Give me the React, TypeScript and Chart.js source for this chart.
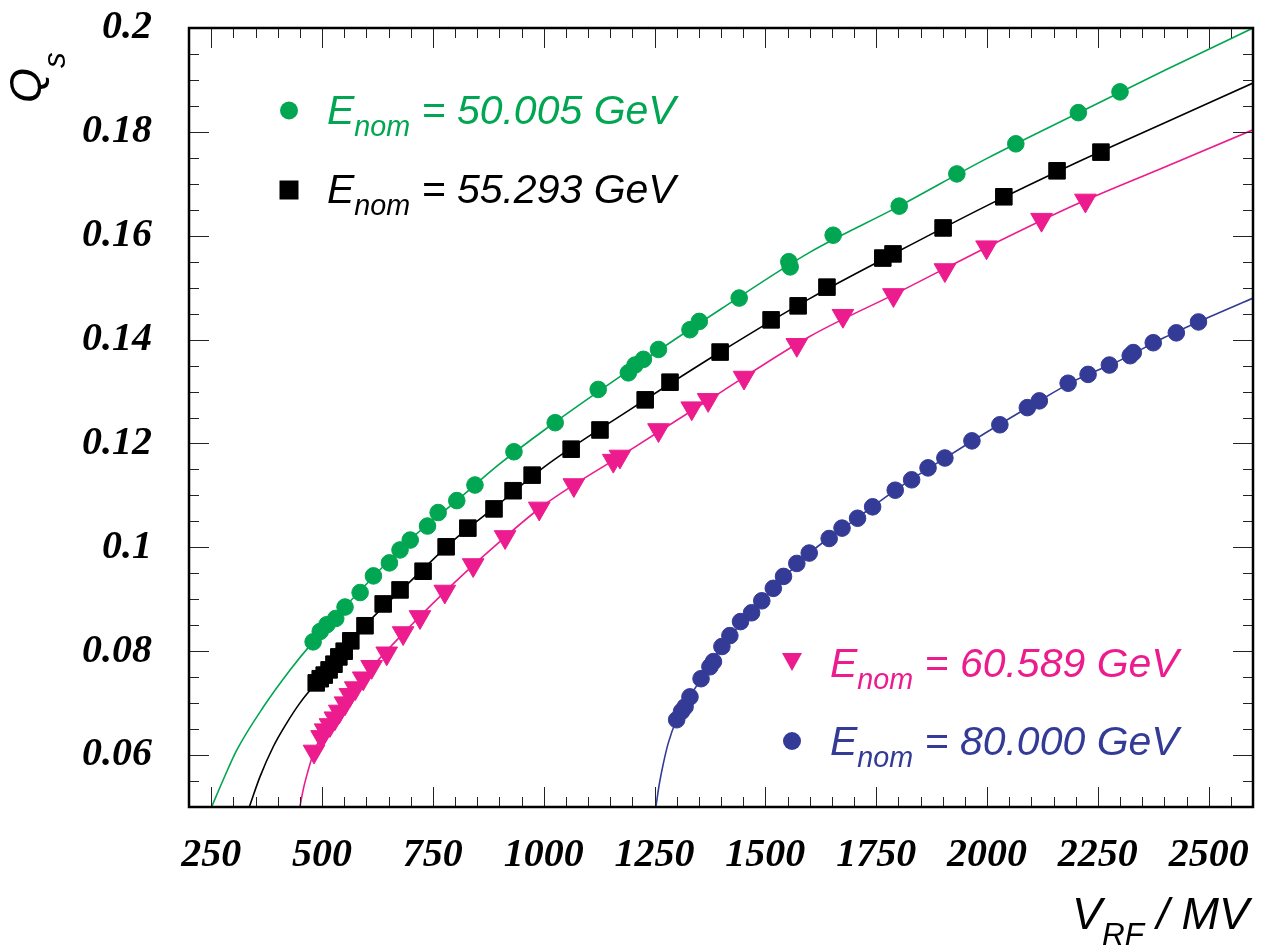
import React, { useEffect, useRef } from 'react';
import { Chart, registerables } from 'chart.js';

Chart.register(...registerables);

// ---------- data ----------
const E50_V = [480, 496, 511, 531, 552, 586, 616, 652, 676, 699, 738, 762, 804, 845, 933, 1026, 1123, 1191, 1206, 1225, 1259, 1330, 1351, 1441, 1553, 1556, 1653, 1802, 1932, 2065, 2206, 2300];
const E50_Q = [0.0818, 0.0838, 0.0851, 0.0863, 0.0885, 0.0913, 0.0945, 0.0970, 0.0995, 0.1014, 0.1041, 0.1067, 0.1090, 0.1120, 0.1184, 0.1240, 0.1304, 0.1336, 0.1351, 0.1362, 0.1381, 0.1419, 0.1435, 0.1480, 0.1550, 0.1540, 0.1601, 0.1657, 0.1719, 0.1777, 0.1837, 0.1877];

const E55_V = [487, 496, 505, 516, 527, 538, 550, 565, 597, 638, 676, 728, 780, 829, 888, 931, 974, 1062, 1127, 1229, 1285, 1398, 1513, 1574, 1639, 1765, 1788, 1901, 2038, 2158, 2257];
const E55_Q = [0.0739, 0.0747, 0.0754, 0.0764, 0.0775, 0.0789, 0.0800, 0.0820, 0.0849, 0.0891, 0.0918, 0.0954, 0.1001, 0.1037, 0.1074, 0.1109, 0.1139, 0.1189, 0.1226, 0.1284, 0.1318, 0.1376, 0.1438, 0.1465, 0.1501, 0.1557, 0.1565, 0.1615, 0.1675, 0.1725, 0.1761];

const E60_V = [482, 499, 507, 518, 529, 539, 552, 563, 575, 593, 612, 646, 683, 721, 777, 841, 913, 990, 1068, 1157, 1172, 1259, 1334, 1371, 1452, 1571, 1675, 1789, 1905, 1999, 2123, 2222];
const E60_Q = [0.0607, 0.0635, 0.0648, 0.0658, 0.0671, 0.0684, 0.0700, 0.0716, 0.0729, 0.0748, 0.0770, 0.0796, 0.0835, 0.0866, 0.0915, 0.0966, 0.1020, 0.1075, 0.1120, 0.1167, 0.1175, 0.1226, 0.1268, 0.1284, 0.1327, 0.1390, 0.1446, 0.1486, 0.1534, 0.1578, 0.1631, 0.1668];

const E80_V = [1300, 1311, 1319, 1330, 1355, 1375, 1383, 1402, 1420, 1444, 1469, 1492, 1518, 1541, 1571, 1599, 1644, 1673, 1708, 1742, 1793, 1830, 1867, 1905, 1966, 2029, 2091, 2118, 2183, 2228, 2276, 2323, 2330, 2375, 2427, 2477];
const E80_Q = [0.0668, 0.0684, 0.0693, 0.0712, 0.0747, 0.0770, 0.0780, 0.0809, 0.0830, 0.0857, 0.0874, 0.0897, 0.0921, 0.0944, 0.0969, 0.0989, 0.1017, 0.1037, 0.1056, 0.1078, 0.1110, 0.1130, 0.1153, 0.1172, 0.1205, 0.1236, 0.1269, 0.1282, 0.1316, 0.1333, 0.1351, 0.1369, 0.1375, 0.1394, 0.1413, 0.1434];

// fitted curves
const FIT50_V = [251, 277, 308, 368, 428, 480, 600, 700, 800, 900, 1000, 1200, 1400, 1600, 1800, 2000, 2200, 2400, 2600];
const FIT50_Q = [0.0500, 0.0552, 0.0610, 0.0693, 0.0764, 0.0818, 0.0929, 0.1016, 0.1087, 0.1160, 0.1225, 0.1345, 0.1459, 0.1568, 0.1656, 0.1749, 0.1834, 0.1918, 0.2000];

const FIT55_V = [336, 360, 390, 420, 450, 487, 600, 700, 800, 900, 1000, 1200, 1400, 1600, 1800, 2000, 2200, 2400, 2600];
const FIT55_Q = [0.0500, 0.0558, 0.0616, 0.0661, 0.0700, 0.0739, 0.0852, 0.0935, 0.1016, 0.1084, 0.1154, 0.1268, 0.1377, 0.1479, 0.1570, 0.1658, 0.1740, 0.1817, 0.1894];

const FIT60_V = [450, 458, 468, 482, 500, 550, 600, 700, 800, 900, 1000, 1200, 1400, 1600, 1800, 2000, 2200, 2400, 2600];
const FIT60_Q = [0.0500, 0.0535, 0.0568, 0.0607, 0.0637, 0.0697, 0.0756, 0.0849, 0.0933, 0.1010, 0.1081, 0.1190, 0.1299, 0.1406, 0.1491, 0.1578, 0.1660, 0.1732, 0.1804];

const FIT80_V = [1253, 1261, 1270, 1281, 1300, 1350, 1400, 1500, 1600, 1700, 1800, 1900, 2000, 2100, 2200, 2300, 2400, 2500, 2600];
const FIT80_Q = [0.0500, 0.0545, 0.0584, 0.0623, 0.0668, 0.0740, 0.0806, 0.0905, 0.0989, 0.1052, 0.1114, 0.1169, 0.1222, 0.1273, 0.1322, 0.1360, 0.1404, 0.1443, 0.1480];

// axes
const X_MIN = 200;
const X_MAX = 2600;
const Y_MIN = 0.05;
const Y_MAX = 0.2;
const X_TICKS = [250, 500, 750, 1000, 1250, 1500, 1750, 2000, 2250, 2500];
const X_TICK_LABELS = ['250', '500', '750', '1000', '1250', '1500', '1750', '2000', '2250', '2500'];
const Y_TICKS = [0.06, 0.08, 0.1, 0.12, 0.14, 0.16, 0.18, 0.2];
const Y_TICK_LABELS = ['0.06', '0.08', '0.1', '0.12', '0.14', '0.16', '0.18', '0.2'];

// series styling / names
const SERIES_ENERGY = ['50.005', '55.293', '60.589', '80.000'];
const SERIES_COLORS = ['#00A651', '#000000', '#EC1C8E', '#333B96'];

const pts = (xs: number[], ys: number[]) => xs.map((x, i) => ({ x, y: ys[i] }));

type Part = { t: string; size: number; dy?: number };

function drawParts(ctx: CanvasRenderingContext2D, x: number, y: number, parts: Part[], color: string) {
  ctx.fillStyle = color;
  ctx.textBaseline = 'alphabetic';
  ctx.textAlign = 'left';
  let cx = x;
  for (const p of parts) {
    ctx.font = `italic ${p.size}px "Liberation Sans", Arial, sans-serif`;
    ctx.fillText(p.t, cx, y + (p.dy || 0));
    cx += ctx.measureText(p.t).width;
  }
}

function drawMarker(ctx: CanvasRenderingContext2D, kind: string, x: number, y: number, color: string) {
  ctx.fillStyle = color;
  ctx.beginPath();
  if (kind === 'circle') {
    ctx.arc(x, y, 9, 0, Math.PI * 2);
  } else if (kind === 'rect') {
    ctx.rect(x - 9.5, y - 9.5, 19, 19);
  } else {
    ctx.moveTo(x - 10, y - 8.5);
    ctx.lineTo(x + 10, y - 8.5);
    ctx.lineTo(x, y + 9.5);
    ctx.closePath();
  }
  ctx.fill();
}

const framePlugin = {
  id: 'rootFrame',
  afterDatasetsDraw(chart: any) {
    const { ctx, chartArea: a, scales } = chart;
    const xs = scales.x;
    const ys = scales.y;
    ctx.save();
    ctx.strokeStyle = '#222';
    ctx.lineWidth = 1;
    ctx.beginPath();
    for (let i = 0; i <= Math.round((X_MAX - X_MIN) / 50); i++) {
      const v = X_MIN + i * 50;
      const px = Math.round(xs.getPixelForValue(v)) + 0.5;
      const len = v % 250 === 0 ? 20 : 10;
      ctx.moveTo(px, a.bottom);
      ctx.lineTo(px, a.bottom - len);
      ctx.moveTo(px, a.top);
      ctx.lineTo(px, a.top + len);
    }
    for (let i = 0; i <= Math.round((Y_MAX - Y_MIN) / 0.005); i++) {
      const v = Y_MIN + i * 0.005;
      const py = Math.round(ys.getPixelForValue(v)) + 0.5;
      const q = v / 0.02;
      const len = Math.abs(q - Math.round(q)) < 1e-6 ? 20 : 10;
      ctx.moveTo(a.left, py);
      ctx.lineTo(a.left + len, py);
      ctx.moveTo(a.right, py);
      ctx.lineTo(a.right - len, py);
    }
    ctx.stroke();
    ctx.strokeStyle = '#000';
    ctx.lineWidth = 2.5;
    ctx.strokeRect(a.left, a.top, a.right - a.left, a.bottom - a.top);
    ctx.restore();
  },
  afterDraw(chart: any) {
    const { ctx } = chart;
    ctx.save();
    // legend entries
    const kinds = ['circle', 'rect', 'triangle', 'circle'];
    const rows = [
      { mx: 289, my: 110.5, tx: 327, ty: 123.5 },
      { mx: 289, my: 190, tx: 327, ty: 202.5 },
      { mx: 792, my: 661.5, tx: 830, ty: 676.5 },
      { mx: 792, my: 741, tx: 830, ty: 755 },
    ];
    rows.forEach((r, i) => {
      drawMarker(ctx, kinds[i], r.mx, r.my, SERIES_COLORS[i]);
      drawParts(ctx, r.tx, r.ty, [
        { t: 'E', size: 41 },
        { t: 'nom', size: 28.7, dy: 12 },
        { t: ' = ' + SERIES_ENERGY[i] + ' GeV', size: 41 },
      ], SERIES_COLORS[i]);
    });
    // x title
    drawParts(ctx, 1072, 929, [
      { t: 'V', size: 45 },
      { t: 'RF', size: 31.5, dy: 16 },
      { t: ' / MV', size: 45 },
    ], '#000');
    // y title (rotated)
    ctx.translate(41, 103);
    ctx.rotate(-Math.PI / 2);
    drawParts(ctx, 0, 0, [
      { t: 'Q', size: 45 },
      { t: 's', size: 31.5, dy: 24 },
    ], '#000');
    ctx.restore();
  },
};

export default function App() {
  const ref = useRef<HTMLCanvasElement | null>(null);

  useEffect(() => {
    if (!ref.current) return;
    const tickFont = { family: '"Liberation Serif", "Times New Roman", serif', size: 40, style: 'italic' as const, weight: 'bold' as const };
    const markerSets = [
      { v: E50_V, q: E50_Q, style: 'circle', r: 8.3, rot: 0 },
      { v: E55_V, q: E55_Q, style: 'rect', r: 11.7, rot: 0 },
      { v: E60_V, q: E60_Q, style: 'triangle', r: 12.5, rot: 180 },
      { v: E80_V, q: E80_Q, style: 'circle', r: 8.3, rot: 0 },
    ];
    const fitSets = [
      { v: FIT50_V, q: FIT50_Q },
      { v: FIT55_V, q: FIT55_Q },
      { v: FIT60_V, q: FIT60_Q },
      { v: FIT80_V, q: FIT80_Q },
    ];
    const datasets: any[] = [];
    markerSets.forEach((m, i) => {
      datasets.push({
        label: 'E_nom = ' + SERIES_ENERGY[i] + ' GeV',
        data: pts(m.v, m.q),
        showLine: false,
        pointStyle: m.style,
        pointRadius: m.r,
        pointRotation: m.rot,
        pointBackgroundColor: SERIES_COLORS[i],
        pointBorderColor: SERIES_COLORS[i],
        pointBorderWidth: 1,
        order: 0,
      });
    });
    fitSets.forEach((f, i) => {
      datasets.push({
        label: 'fit ' + SERIES_ENERGY[i],
        data: pts(f.v, f.q),
        showLine: true,
        pointRadius: 0,
        borderColor: SERIES_COLORS[i],
        borderWidth: 1.6,
        cubicInterpolationMode: 'monotone',
        fill: false,
        order: 1,
      });
    });

    const chart = new Chart(ref.current, {
      type: 'scatter',
      data: { datasets },
      options: {
        responsive: false,
        animation: false,
        events: [],
        layout: { padding: { left: 0, right: 15, top: 28, bottom: 0 } },
        plugins: { legend: { display: false }, tooltip: { enabled: false } },
        scales: {
          x: {
            type: 'linear',
            min: X_MIN,
            max: X_MAX,
            afterBuildTicks: (s: any) => { s.ticks = X_TICKS.map((value) => ({ value })); },
            afterFit: (s: any) => { s.height = 139; s.paddingLeft = 0; s.paddingRight = 0; },
            grid: { display: false, drawTicks: false },
            border: { display: false },
            ticks: {
              font: tickFont,
              color: '#000',
              padding: 25,
              autoSkip: false,
              maxRotation: 0,
              minRotation: 0,
              callback: (_v: any, i: number) => X_TICK_LABELS[i],
            },
          },
          y: {
            type: 'linear',
            min: Y_MIN,
            max: Y_MAX,
            afterBuildTicks: (s: any) => { s.ticks = Y_TICKS.map((value) => ({ value })); },
            afterFit: (s: any) => { s.width = 189; s.paddingTop = 0; s.paddingBottom = 0; },
            grid: { display: false, drawTicks: false },
            border: { display: false },
            ticks: {
              font: tickFont,
              color: '#000',
              padding: 37,
              autoSkip: false,
              callback: (_v: any, i: number) => Y_TICK_LABELS[i],
            },
          },
        },
      },
      plugins: [framePlugin],
    });
    return () => chart.destroy();
  }, []);

  return (
    <div style={{ position: 'absolute', left: 0, top: 0, width: 1268, height: 946, background: '#fff' }}>
      <canvas ref={ref} width={1268} height={946} style={{ display: 'block' }} />
    </div>
  );
}
